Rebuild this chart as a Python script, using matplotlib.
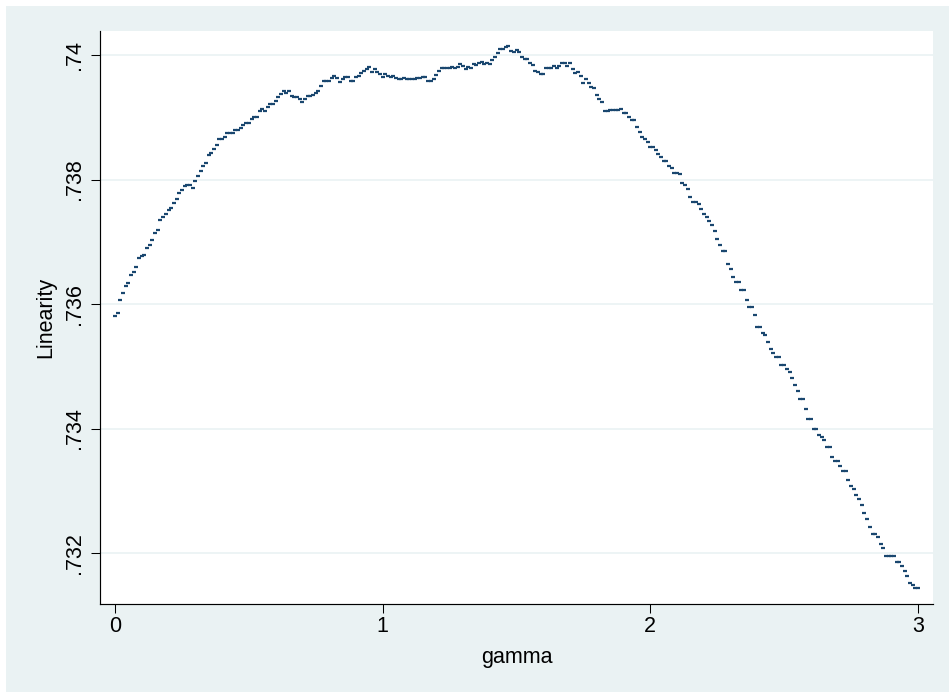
import matplotlib
matplotlib.use("Agg")
import matplotlib.pyplot as plt
from matplotlib.patches import Rectangle
import numpy as np

# Linearity, one value per gamma step of 0.01 (0 .. 3)
linearity = [
    .735800, .735860, .736060, .736180, .736290, .736340, .736470, .736510, .736600, .736740,
    .736770, .736790, .736900, .736950, .737030, .737140, .737190, .737350, .737400, .737450,
    .737510, .737540, .737620, .737690, .737780, .737830, .737900, .737920, .737920, .737870,
    .737970, .738060, .738140, .738210, .738260, .738390, .738430, .738490, .738550, .738650,
    .738650, .738690, .738750, .738750, .738750, .738800, .738800, .738820, .738880, .738910,
    .738910, .738970, .739000, .739000, .739100, .739140, .739100, .739160, .739210, .739210,
    .739260, .739330, .739370, .739430, .739390, .739430, .739340, .739320, .739320, .739300,
    .739240, .739290, .739340, .739340, .739360, .739390, .739430, .739510, .739590, .739590,
    .739590, .739630, .739670, .739630, .739570, .739610, .739640, .739640, .739590, .739590,
    .739650, .739660, .739710, .739750, .739780, .739800, .739730, .739770, .739730, .739700,
    .739650, .739690, .739660, .739650, .739670, .739630, .739620, .739620, .739625, .739620,
    .739620, .739620, .739620, .739625, .739625, .739642, .739650, .739590, .739590, .739614,
    .739674, .739743, .739786, .739796, .739796, .739796, .739812, .739796, .739812, .739855,
    .739828, .739775, .739812, .739796, .739850, .739839, .739877, .739892, .739855, .739877,
    .739855, .739915, .739963, .740027, .740096, .740096, .740124, .740145, .740064, .740043,
    .740080, .740053, .739973, .739936, .739936, .739877, .739834, .739748, .739722, .739695,
    .739695, .739796, .739796, .739796, .739828, .739796, .739828, .739866, .739866, .739828,
    .739866, .739775, .739716, .739732, .739667, .739546, .739610, .739546, .739481, .739465,
    .739357, .739288, .739240, .739100, .739100, .739116, .739116, .739116, .739116, .739133,
    .739073, .739073, .739009, .738964, .738964, .738848, .738768, .738678, .738646, .738607,
    .738527, .738527, .738474, .738405, .738367, .738294, .738294, .738222, .738180, .738107,
    .738107, .738096, .737949, .737912, .737847, .737724, .737644, .737644, .737602, .737521,
    .737441, .737398, .737338, .737274, .737173, .737049, .736948, .736847, .736847, .736643,
    .736562, .736439, .736349, .736349, .736225, .736225, .736064, .735947, .735947, .735823,
    .735635, .735635, .735539, .735497, .735390, .735272, .735208, .735153, .735153, .735025,
    .735025, .734961, .734903, .734816, .734699, .734598, .734479, .734479, .734313, .734150,
    .734150, .733987, .733987, .733896, .733859, .733815, .733698, .733698, .733547, .733478,
    .733478, .733403, .733323, .733323, .733173, .733076, .733033, .732932, .732872, .732766,
    .732647, .732546, .732422, .732300, .732300, .732262, .732144, .732075, .731952, .731952,
    .731952, .731952, .731850, .731850, .731791, .731711, .731630, .731523, .731486, .731432,
    .731432,
]
gamma_step = 0.01
gamma = np.arange(len(linearity)) * gamma_step

x_ticks = [0, 1, 2, 3]
x_labels = ["0", "1", "2", "3"]
y_ticks = [.732, .734, .736, .738, .740]
y_labels = [".732", ".734", ".736", ".738", ".74"]

BG = "#eaf2f3"
NAVY = "#1a476f"
plt.rcParams["font.family"] = ["Liberation Sans", "DejaVu Sans"]
FS = 15.5

W, H = 949, 692
fig = plt.figure(figsize=(W / 100, H / 100), dpi=100, facecolor="white")
# graph region (white strip only on top and left, as in the reference)
fig.patches.append(Rectangle((6 / W, -0.05), 1.1, 1.05 - 6 / H, transform=fig.transFigure,
                             facecolor=BG, edgecolor="none", zorder=-10))

ax = fig.add_axes([100 / W, 88 / H, 833 / W, 573 / H])
ax.set_zorder(5)
ax.set_facecolor("white")

ax.plot(gamma, linearity, linestyle="none", marker="_", markersize=3.2,
        markeredgewidth=1.6, color=NAVY, zorder=3)

ax.set_xlim(-0.056, 3.056)
ax.set_ylim(0.731181, 0.740386)

ax.set_xticks(x_ticks)
ax.set_xticklabels(x_labels, fontsize=FS)
ax.set_yticks(y_ticks)
ax.set_yticklabels(y_labels, fontsize=FS, rotation=90, va="center", ha="right")

ax.tick_params(axis="both", direction="out", length=6.5, width=0.75, color="black")
ax.tick_params(axis="x", pad=2.5)
ax.tick_params(axis="y", pad=4.6)

for side in ["top", "right"]:
    ax.spines[side].set_visible(False)
for side in ["left", "bottom"]:
    ax.spines[side].set_linewidth(0.85)

# horizontal grid only, Stata style
ax.yaxis.grid(True, color=BG, linewidth=1.2)
ax.xaxis.grid(False)
ax.set_axisbelow(True)

fig.text(516.5 / W, 1 - 663 / H, "gamma", fontsize=FS, ha="center", va="baseline")
fig.text(51.5 / W, 1 - 317.5 / H, "Linearity", fontsize=FS, rotation=90,
         rotation_mode="anchor", ha="center", va="baseline")

fig.savefig("out.png", dpi=100, facecolor=fig.get_facecolor())
